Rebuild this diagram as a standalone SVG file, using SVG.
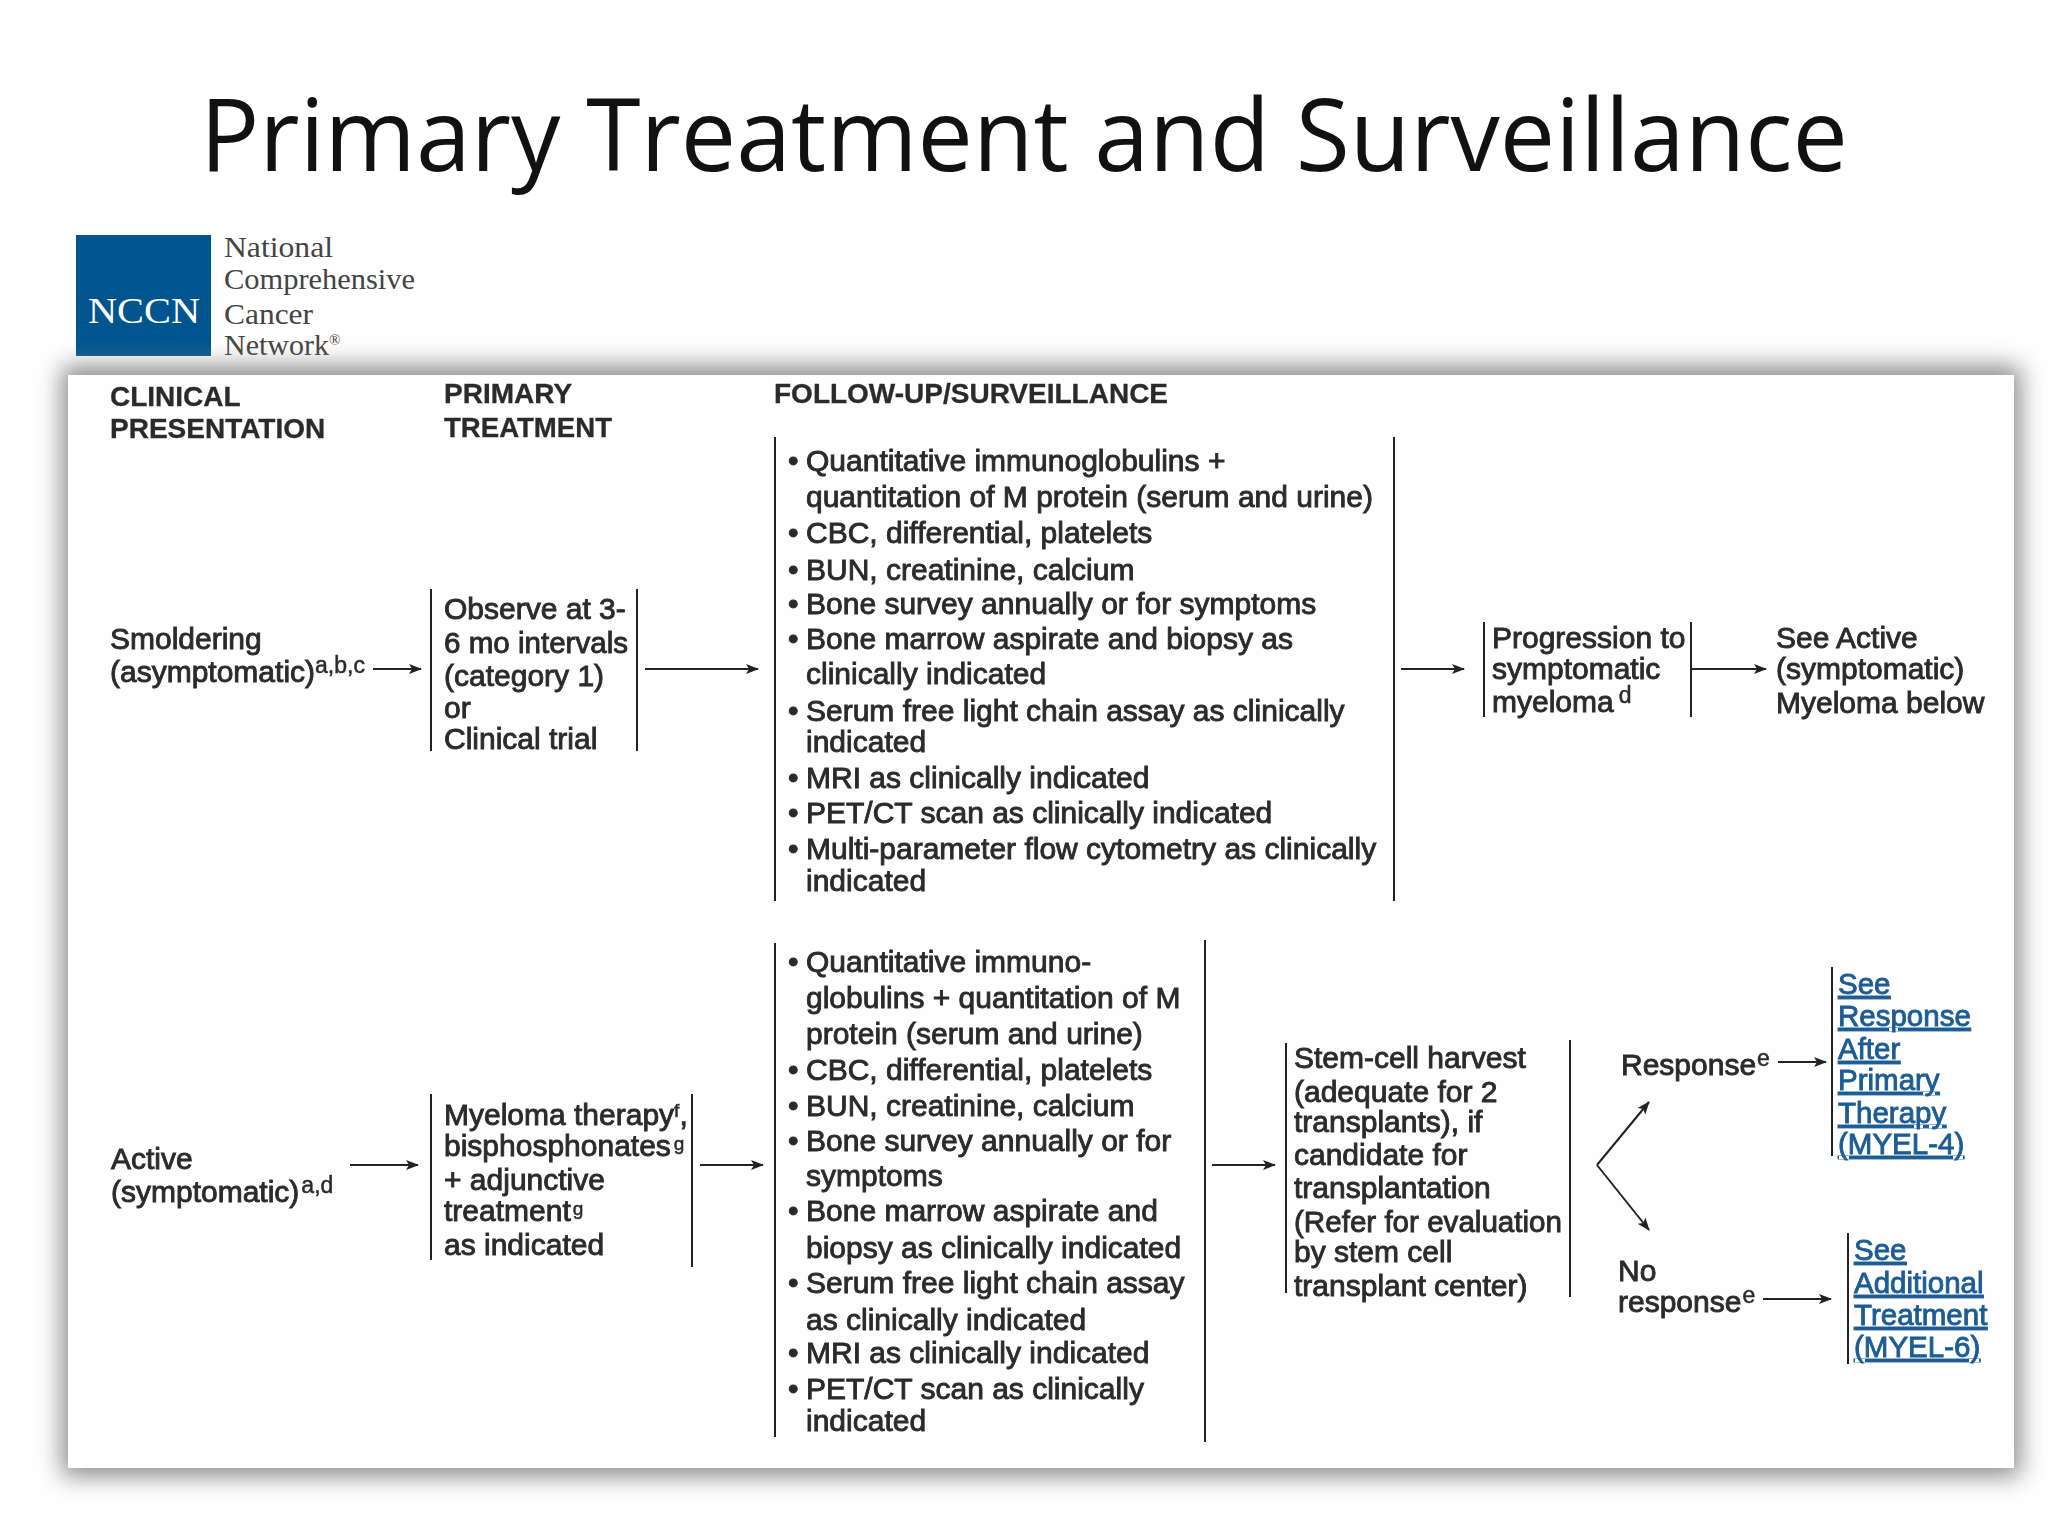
<svg xmlns="http://www.w3.org/2000/svg" width="2048" height="1536" viewBox="0 0 2048 1536">
<style>
text{font-family:"Liberation Sans",Arial,sans-serif;font-size:30px;fill:#2b2b2b;stroke:#2b2b2b;stroke-width:.9px}
.h{font-weight:bold;font-size:28px;stroke-width:.3px}
.s{font-size:23px;stroke-width:.5px}
.g{font-size:19px;stroke-width:.5px}
.l{font-size:29.500px;fill:#1c5c94;stroke:#1c5c94;text-decoration:underline}
.t{font-family:"Open Sans","Noto Sans",sans-serif;font-size:100px;fill:#111;stroke:none}
.o{font-family:"Liberation Serif",serif;font-size:30px;fill:#444;stroke:none}
.v{stroke:#222;stroke-width:2;fill:none}
.a{stroke:#222;stroke-width:2;fill:none;marker-end:url(#ah)}
</style>
<defs>
<marker id="ah" markerWidth="14" markerHeight="12" refX="12" refY="6" orient="auto" markerUnits="userSpaceOnUse"><path d="M0 1L13 6L0 11L3 6Z" fill="#222"/></marker>
<filter id="sh" x="-5%" y="-5%" width="110%" height="110%"><feGaussianBlur stdDeviation="12"/></filter>
<filter id="soft" x="0" y="0" width="100%" height="100%"><feGaussianBlur stdDeviation="0.6"/></filter>
</defs>
<rect width="2048" height="1536" fill="#fff"/>
<g id="title"><text class="t" x="200" y="171" textLength="1648" lengthAdjust="spacingAndGlyphs">Primary Treatment and Surveillance</text></g>
<g id="logo">
<rect x="76" y="235" width="135" height="121" fill="#00558f"/>
<text class="o" x="88" y="323" style="fill:#fff;font-size:36px" textLength="112" lengthAdjust="spacingAndGlyphs">NCCN</text>
<text class="o" x="224" y="257" textLength="109" lengthAdjust="spacingAndGlyphs">National</text>
<text class="o" x="224" y="289" textLength="191" lengthAdjust="spacingAndGlyphs">Comprehensive</text>
<text class="o" x="224" y="324" textLength="89" lengthAdjust="spacingAndGlyphs">Cancer</text>
<text class="o" x="224" y="355">Network<tspan font-size="15" dy="-10">®</tspan></text>
</g>
<rect x="62" y="366" width="1958" height="1110" fill="#8a8a8a" filter="url(#sh)"/>
<rect id="panel" x="68" y="375" width="1946" height="1093" fill="#fefefe"/>
<g filter="url(#soft)">
<g id="headers">
<text class="h" x="110" y="406">CLINICAL</text>
<text class="h" x="110" y="438">PRESENTATION</text>
<text class="h" x="444" y="403">PRIMARY</text>
<text class="h" x="444" y="437" textLength="168" lengthAdjust="spacingAndGlyphs">TREATMENT</text>
<text class="h" x="774" y="403">FOLLOW-UP/SURVEILLANCE</text>
</g>
<g id="connectors">
<path class="a" d="M373 669H421"/>
<path class="a" d="M645 669H758"/>
<path class="a" d="M1401 669H1464"/>
<path class="a" d="M1692 669H1766"/>
<path class="a" d="M350 1165H418"/>
<path class="a" d="M700 1165H763"/>
<path class="a" d="M1212 1165H1275"/>
<path class="a" d="M1597 1165L1649 1102"/>
<path class="a" d="M1597 1165L1649 1230"/>
<path class="a" d="M1778 1062H1826"/>
<path class="a" d="M1763 1299H1831"/>
</g>
<g id="smoldering">
<text x="110" y="649">Smoldering</text>
<text x="110" y="682">(asymptomatic)<tspan class="s" dy="-9">a,b,c</tspan></text>
</g>
<g id="observe">
<path class="v" d="M431 589V751M637 589V751"/>
<text x="444" y="619">Observe at 3-</text>
<text x="444" y="653" textLength="184" lengthAdjust="spacingAndGlyphs">6 mo intervals</text>
<text x="444" y="686">(category 1)</text>
<text x="444" y="718">or</text>
<text x="444" y="749">Clinical trial</text>
</g>
<g id="surveillance-smoldering">
<path class="v" d="M775 437V901M1394 437V901"/>
<text x="788" y="471">•</text><text x="806" y="471">Quantitative immunoglobulins +</text>
<text x="806" y="507">quantitation of M protein (serum and urine)</text>
<text x="788" y="543">•</text><text x="806" y="543">CBC, differential, platelets</text>
<text x="788" y="580">•</text><text x="806" y="580">BUN, creatinine, calcium</text>
<text x="788" y="614">•</text><text x="806" y="614">Bone survey annually or for symptoms</text>
<text x="788" y="649">•</text><text x="806" y="649">Bone marrow aspirate and biopsy as</text>
<text x="806" y="684">clinically indicated</text>
<text x="788" y="721">•</text><text x="806" y="721">Serum free light chain assay as clinically</text>
<text x="806" y="752">indicated</text>
<text x="788" y="788">•</text><text x="806" y="788">MRI as clinically indicated</text>
<text x="788" y="823">•</text><text x="806" y="823">PET/CT scan as clinically indicated</text>
<text x="788" y="859">•</text><text x="806" y="859">Multi-parameter flow cytometry as clinically</text>
<text x="806" y="891">indicated</text>
</g>
<g id="progression">
<path class="v" d="M1484 622V717M1691 622V717"/>
<text x="1492" y="648">Progression to</text>
<text x="1492" y="679">symptomatic</text>
<text x="1492" y="712">myeloma<tspan class="s" dx="5" dy="-9">d</tspan></text>
</g>
<g id="see-active">
<text x="1776" y="648">See Active</text>
<text x="1776" y="679">(symptomatic)</text>
<text x="1776" y="713">Myeloma below</text>
</g>
<g id="active">
<text x="111" y="1169">Active</text>
<text x="111" y="1202">(symptomatic)<tspan class="s" dx="2" dy="-9">a,d</tspan></text>
</g>
<g id="therapy">
<path class="v" d="M431 1094V1260M692 1094V1267"/>
<text x="444" y="1125">Myeloma therapy<tspan class="g" dy="-8">f</tspan><tspan dy="8">,</tspan></text>
<text x="444" y="1156">bisphosphonates<tspan class="g" dx="3" dy="-6">g</tspan></text>
<text x="444" y="1190">+ adjunctive</text>
<text x="444" y="1221">treatment<tspan class="g" dx="2" dy="-6">g</tspan></text>
<text x="444" y="1255">as indicated</text>
</g>
<g id="surveillance-active">
<path class="v" d="M775 943V1437M1205 940V1442"/>
<text x="788" y="972">•</text><text x="806" y="972">Quantitative immuno-</text>
<text x="806" y="1008">globulins + quantitation of M</text>
<text x="806" y="1044">protein (serum and urine)</text>
<text x="788" y="1080">•</text><text x="806" y="1080">CBC, differential, platelets</text>
<text x="788" y="1116">•</text><text x="806" y="1116">BUN, creatinine, calcium</text>
<text x="788" y="1151">•</text><text x="806" y="1151">Bone survey annually or for</text>
<text x="806" y="1186">symptoms</text>
<text x="788" y="1221">•</text><text x="806" y="1221">Bone marrow aspirate and</text>
<text x="806" y="1258">biopsy as clinically indicated</text>
<text x="788" y="1293">•</text><text x="806" y="1293">Serum free light chain assay</text>
<text x="806" y="1330">as clinically indicated</text>
<text x="788" y="1363">•</text><text x="806" y="1363">MRI as clinically indicated</text>
<text x="788" y="1399">•</text><text x="806" y="1399">PET/CT scan as clinically</text>
<text x="806" y="1431">indicated</text>
</g>
<g id="stem-cell">
<path class="v" d="M1286 1043V1293M1570 1040V1297"/>
<text x="1294" y="1068">Stem-cell harvest</text>
<text x="1294" y="1102">(adequate for 2</text>
<text x="1294" y="1132">transplants), if</text>
<text x="1294" y="1165">candidate for</text>
<text x="1294" y="1198">transplantation</text>
<text x="1294" y="1232" textLength="268" lengthAdjust="spacingAndGlyphs">(Refer for evaluation</text>
<text x="1294" y="1262">by stem cell</text>
<text x="1294" y="1296">transplant center)</text>
</g>
<g id="response"><text x="1621" y="1075">Response<tspan class="s" dx="1" dy="-9">e</tspan></text></g>
<g id="no-response">
<text x="1618" y="1281">No</text>
<text x="1618" y="1312">response<tspan class="s" dx="1" dy="-9">e</tspan></text>
</g>
<g id="link-response">
<path class="v" d="M1832 967V1156"/>
<text class="l" x="1838" y="994">See</text>
<text class="l" x="1838" y="1026">Response</text>
<text class="l" x="1838" y="1059">After</text>
<text class="l" x="1838" y="1090">Primary</text>
<text class="l" x="1838" y="1123">Therapy</text>
<text class="l" x="1838" y="1154">(MYEL-4)</text>
</g>
<g id="link-additional">
<path class="v" d="M1848 1233V1364"/>
<text class="l" x="1854" y="1260">See</text>
<text class="l" x="1854" y="1293">Additional</text>
<text class="l" x="1854" y="1325">Treatment</text>
<text class="l" x="1854" y="1357">(MYEL-6)</text>
</g>
</g>
</svg>
